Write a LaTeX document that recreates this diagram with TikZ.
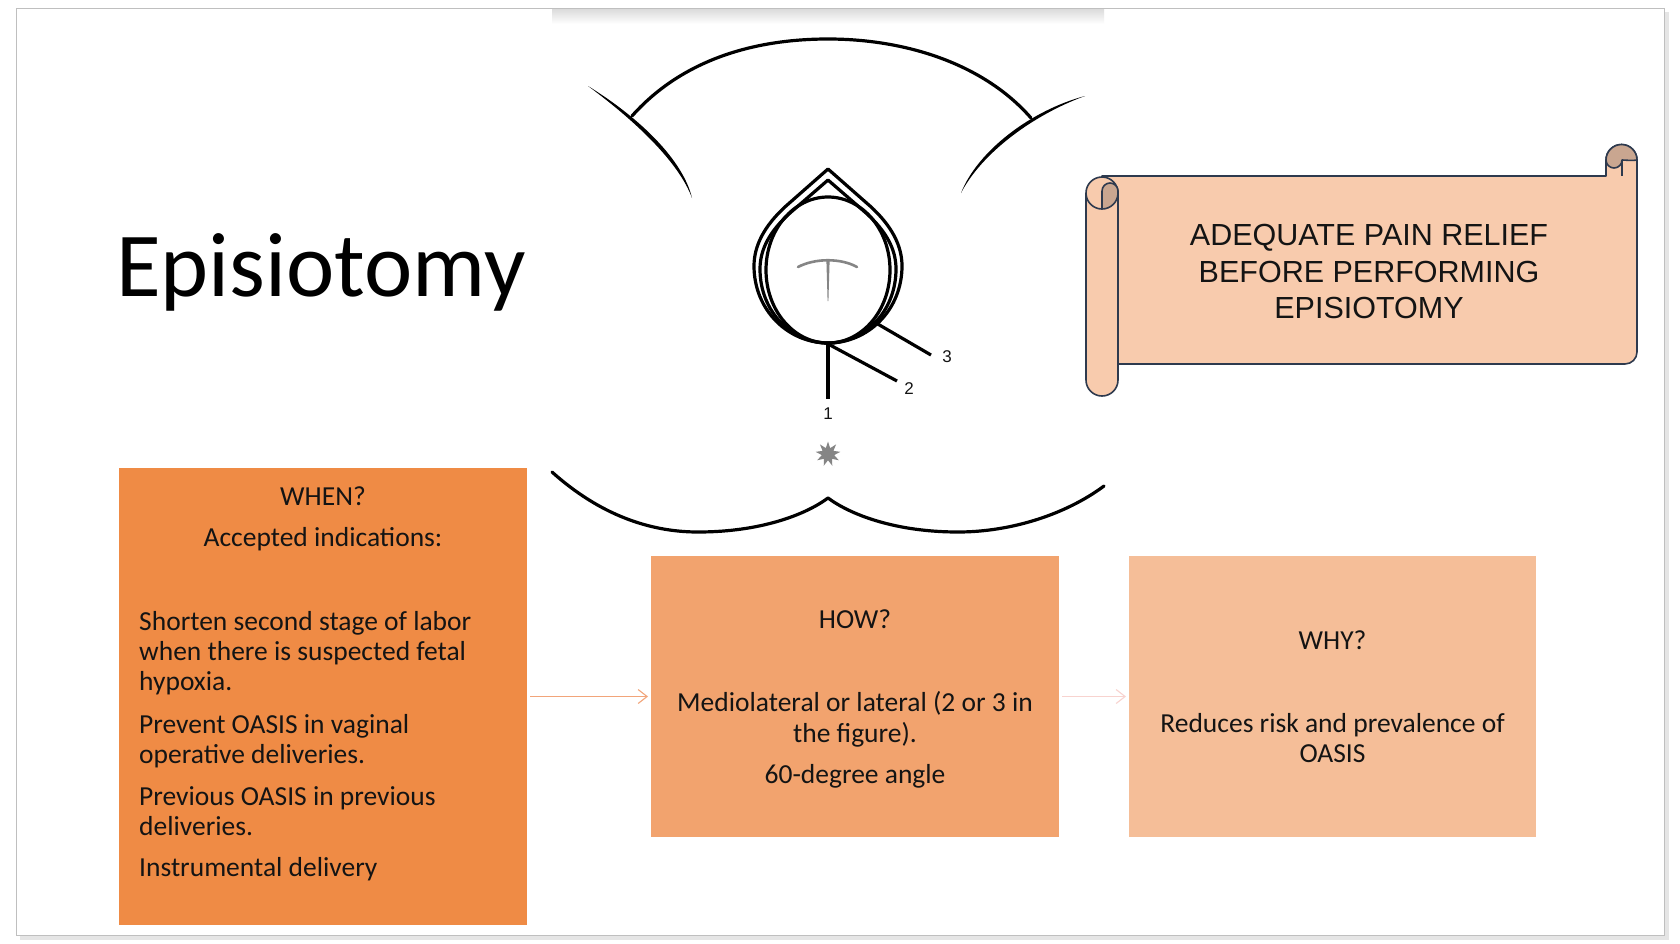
\documentclass[tikz,border=0pt]{standalone}
\usepackage{fontspec}
\setmainfont{Carlito}
\newfontfamily\arialf{Liberation Sans}
\usetikzlibrary{shapes.geometric,arrows.meta}
\definecolor{whenc}{HTML}{EF8B45}
\definecolor{howc}{HTML}{F2A36E}
\definecolor{whyc}{HTML}{F5BE98}
\definecolor{scrollc}{HTML}{F8CBAD}
\definecolor{curlc}{HTML}{C9A690}
\definecolor{scrolll}{HTML}{2E3A4E}
\definecolor{arrowa}{HTML}{F2A57A}
\definecolor{arrowb}{HTML}{F8D3CF}
\definecolor{txtc}{HTML}{141414}
\definecolor{tmark}{HTML}{858585}
\begin{document}
\begin{tikzpicture}[x=1pt,y=-1pt,
  boxnode/.style={minimum width=408pt,inner sep=0pt,outer sep=0pt,draw=none},
  btxt/.style={font=\fontsize{27.5}{30}\selectfont,text=txtc,inner sep=0pt},
  stxt/.style={font=\arialf\fontsize{30.5}{36}\selectfont,text=txtc,inner sep=0pt,anchor=base},
  numtxt/.style={font=\arialf\fontsize{17}{20}\selectfont,text=txtc,inner sep=0pt},
  anat/.style={line width=3.2pt,draw=black,line cap=round,line join=round},
  scrollline/.style={draw=scrolll,line width=1.6pt,line join=round},
  conn/.style={line width=1.3pt,-{Straight Barb[length=9pt,width=14pt,line width=1.1pt]},shorten <=3pt,shorten >=3pt}
]
\useasboundingbox (0,0) rectangle (1680,943);
\fill[white] (0,0) rectangle (1680,943);
% slide frame with shadow
\draw[black!10,line width=4pt] (20,938) -- (1667,938) -- (1667,12);
\draw[black!25,line width=0.8pt,fill=white] (16,8.6) rectangle (1664,935);
% picture top shadow
\shade[top color=black!14,bottom color=white] (552,9) rectangle (1104,24);

% title
\node[anchor=base west,inner sep=0pt,font=\fontsize{91.5}{100}\selectfont,text=black] (title) at (116,296) {Episiotomy};

% ---------- anatomy drawing ----------
% top arc
\draw[anat] (632,116) .. controls (680,62) and (750,39) .. (828,39) .. controls (906,39) and (984,64) .. (1031,118);
% left curve (tapered)
\fill[black] (588,86) .. controls (640,118) and (683,160) .. (692,198) .. controls (679,162.5) and (636,121.5) .. cycle;
% right curve (tapered)
\fill[black] (1085,96) .. controls (1032,110) and (978,150) .. (961,193) .. controls (982,152.5) and (1034,114.5) .. cycle;
% bottom curve
\draw[anat] (552,472) .. controls (600,515) and (650,532) .. (698,532) .. controls (760,532) and (805,515) .. (828,498) .. controls (851,515) and (896,532) .. (958,532) .. controls (1010,532) and (1065,515) .. (1104,486);
% outer teardrop
\draw[anat] (828,169) -- (786,206) .. controls (764,226) and (754,246) .. (754,266) .. controls (754,310) and (788,343) .. (828,343) .. controls (868,343) and (902,310) .. (902,266) .. controls (902,246) and (892,226) .. (870,206) -- cycle;
% inner teardrop
\draw[anat] (828,180) -- (790,213) .. controls (770,231) and (760,249) .. (760,269) .. controls (760,312) and (792,343) .. (828,343) .. controls (864,343) and (896,312) .. (896,269) .. controls (896,249) and (886,231) .. (866,213) -- cycle;
% head
\draw[anat] (828,270) ellipse [x radius=62, y radius=73];
% T mark
\draw[tmark,line width=2.6pt,line cap=round] (798,267) .. controls (815,258) and (841,258) .. (857,267);
\fill[tmark] (826.4,261) -- (829.6,261) -- (828.4,301) -- (827.6,301) -- cycle;
% incision lines
\coordinate (c1a) at (828,343);
\coordinate (c1b) at (828,399);
\coordinate (c2a) at (830,345);
\coordinate (c2b) at (897,381);
\coordinate (c3a) at (876,323);
\coordinate (c3b) at (931,355);
\draw[anat,line cap=butt] (c1a) -- (c1b);
\draw[anat,line cap=butt] (c2a) -- (c2b);
\draw[anat,line cap=butt] (c3a) -- (c3b);
\node[numtxt] (n1) at (828,414) {1};
\node[numtxt] (n2) at (909,389) {2};
\node[numtxt] (n3) at (947,357) {3};
% anus star
\node[star,star points=9,star point ratio=2.0,fill=tmark,draw=none,minimum size=25pt,inner sep=0pt] (anus) at (828,454) {};

% ---------- scroll ----------
\draw[scrollline,fill=scrollc] (1102,176) -- (1606,176) -- (1606,160) arc[start angle=180,end angle=360,radius=15.5] -- (1637,352) arc[start angle=0,end angle=90,radius=12] -- (1102,364) -- cycle;
\draw[scrollline,fill=curlc] (1606,160) arc[start angle=180,end angle=360,radius=15.5] .. controls (1632,161) and (1626,160) .. (1622,160) arc[start angle=0,end angle=180,radius=8] -- cycle;
\draw[scrollline] (1622,160) -- (1622,176);
\draw[scrollline,fill=scrollc] (1118,193) -- (1118,380) arc[start angle=0,end angle=180,radius=16] -- (1086,193) arc[start angle=180,end angle=360,radius=16] -- cycle;
\draw[scrollline,fill=curlc] (1102,191) arc[start angle=180,end angle=360,radius=8] -- (1118,193) arc[start angle=0,end angle=90,radius=16] -- cycle;
\draw[scrollline] (1086,193) arc[start angle=180,end angle=90,radius=16];
\node[stxt] (s1) at (1369,245) {ADEQUATE PAIN RELIEF};
\node[stxt] (s2) at (1369,282) {BEFORE PERFORMING};
\node[stxt] (s3) at (1369,318) {EPISIOTOMY};

% ---------- boxes ----------
\node[boxnode,fill=whenc,minimum height=457pt] (when) at (323,696.5) {};
\node[boxnode,fill=howc,minimum height=281pt] (how) at (855,696.5) {};
\node[boxnode,fill=whyc,minimum height=281pt,minimum width=407pt] (why) at (1332.5,696.5) {};

\draw[conn,arrowa] (when.east) -- (how.west);
\draw[conn,arrowb] (how.east) -- (why.west);

% WHEN text
\node[btxt,anchor=base] (w1) at (323,505) {WHEN?};
\node[btxt,anchor=base] (w2) at (323,546) {Accepted indications:};
\node[btxt,anchor=base west] (w3) at (139,630) {Shorten second stage of labor};
\node[btxt,anchor=base west] (w4) at (139,660) {when there is suspected fetal};
\node[btxt,anchor=base west] (w5) at (139,690) {hypoxia.};
\node[btxt,anchor=base west] (w6) at (139,733) {Prevent OASIS in vaginal};
\node[btxt,anchor=base west] (w7) at (139,763) {operative deliveries.};
\node[btxt,anchor=base west] (w8) at (139,805) {Previous OASIS in previous};
\node[btxt,anchor=base west] (w9) at (139,835) {deliveries.};
\node[btxt,anchor=base west] (w10) at (139,876) {Instrumental delivery};
% HOW text
\node[btxt,anchor=base] (h1) at (855,628) {HOW?};
\node[btxt,anchor=base] (h2) at (855,711) {Mediolateral or lateral (2 or 3 in};
\node[btxt,anchor=base] (h3) at (855,742) {the figure).};
\node[btxt,anchor=base] (h4) at (855,783) {60-degree angle};
% WHY text
\node[btxt,anchor=base] (y1) at (1332.5,649) {WHY?};
\node[btxt,anchor=base] (y2) at (1332.5,732) {Reduces risk and prevalence of};
\node[btxt,anchor=base] (y3) at (1332.5,762) {OASIS};
\end{tikzpicture}
\end{document}
